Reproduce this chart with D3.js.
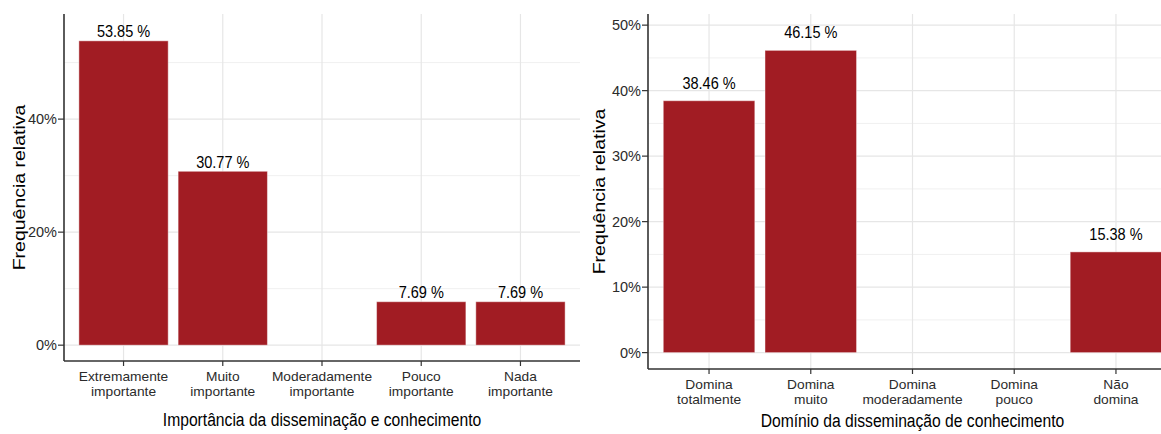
<!DOCTYPE html>
<html>
<head>
<meta charset="utf-8">
<script src="https://cdn.jsdelivr.net/npm/d3@7"></script>
<style>
  html, body { margin: 0; padding: 0; background: #fff; }
  svg { display: block; font-family: Arial, "Liberation Sans", sans-serif; }
</style>
</head>
<body>
<svg id="chart" width="1161" height="434"></svg>
<script>
// Importance of dissemination and knowledge
const importanceCategories = ["Extremamente\nimportante", "Muito\nimportante", "Moderadamente\nimportante", "Pouco\nimportante", "Nada\nimportante"];
const importanceValues = [53.85, 30.77, 0, 7.69, 7.69];
const importanceTicks = [0, 20, 40];
const importanceMinor = [10, 30, 50];

// Mastery of knowledge dissemination
const masteryCategories = ["Domina\ntotalmente", "Domina\nmuito", "Domina\nmoderadamente", "Domina\npouco", "Não\ndomina"];
const masteryValues = [38.46, 46.15, 0, 0, 15.38];
const masteryTicks = [0, 10, 20, 30, 40, 50];
const masteryMinor = [5, 15, 25, 35, 45];

const yTitle = "Frequência relativa";
const importanceTitle = "Importância da disseminação e conhecimento";
const masteryTitle = "Domínio da disseminação de conhecimento";

const BAR = "#a11c23";
const svg = d3.select("#chart");

// Text drawn slightly condensed horizontally
function label(g, x, y, str, opts) {
  return g.append("text")
    .attr("transform", `translate(${x},${y}) scale(${opts.sx || 1},1)`)
    .attr("text-anchor", opts.anchor || "middle")
    .attr("font-size", opts.size)
    .attr("fill", opts.fill || "#000")
    .text(str);
}

function panel(cfg) {
  const g = svg.append("g");
  const x = d3.scaleBand()
    .domain(cfg.categories)
    .range([cfg.left, cfg.right])
    .paddingInner(0.1)
    .paddingOuter(0.15);
  const y = d3.scaleLinear()
    .domain(cfg.yDomain)
    .range([cfg.bottom, cfg.top]);
  const cx = c => x(c) + x.bandwidth() / 2;

  // grid
  const grid = g.append("g");
  grid.selectAll("line.minor").data(cfg.minor.filter(v => y(v) >= cfg.top)).join("line")
    .attr("x1", cfg.left).attr("x2", cfg.right)
    .attr("y1", d => y(d)).attr("y2", d => y(d))
    .attr("stroke", "#f0f0f0").attr("stroke-width", 1);
  grid.selectAll("line.major").data(cfg.ticks).join("line")
    .attr("x1", cfg.left).attr("x2", cfg.right)
    .attr("y1", d => y(d)).attr("y2", d => y(d))
    .attr("stroke", "#e6e6e6").attr("stroke-width", 1.2);
  grid.selectAll("line.vert").data(cfg.categories).join("line")
    .attr("x1", d => cx(d)).attr("x2", d => cx(d))
    .attr("y1", cfg.top).attr("y2", cfg.bottom)
    .attr("stroke", "#e6e6e6").attr("stroke-width", 1.2);

  // bars
  const rows = cfg.categories.map((c, i) => ({ c, v: cfg.values[i] })).filter(d => d.v > 0);
  g.selectAll("rect.bar").data(rows).join("rect")
    .attr("x", d => x(d.c))
    .attr("width", x.bandwidth())
    .attr("y", d => y(d.v))
    .attr("height", d => y(0) - y(d.v))
    .attr("fill", BAR)
    .attr("stroke", "rgba(255,255,255,0.45)")
    .attr("stroke-width", 1);

  // value labels
  rows.forEach(d => {
    label(g, cx(d.c), y(d.v) - cfg.labelGap, d.v.toFixed(2) + " %", { size: 16.5, sx: 0.88 });
  });

  // axes lines
  g.append("line").attr("x1", cfg.left).attr("x2", cfg.left)
    .attr("y1", cfg.top).attr("y2", cfg.bottom)
    .attr("stroke", "#333").attr("stroke-width", 1.6);
  g.append("line").attr("x1", cfg.left).attr("x2", cfg.right)
    .attr("y1", cfg.bottom).attr("y2", cfg.bottom)
    .attr("stroke", "#333").attr("stroke-width", 1.6);

  // y ticks
  cfg.ticks.forEach(t => {
    g.append("line").attr("x1", cfg.left - 6).attr("x2", cfg.left)
      .attr("y1", y(t)).attr("y2", y(t)).attr("stroke", "#333").attr("stroke-width", 1.2);
    label(g, cfg.left - 7, y(t) + 5, t + "%", { size: 14.5, sx: 1.0, anchor: "end", fill: "#2b2b2b" });
  });

  // x ticks
  cfg.categories.forEach(c => {
    g.append("line").attr("x1", cx(c)).attr("x2", cx(c))
      .attr("y1", cfg.bottom).attr("y2", cfg.bottom + 5).attr("stroke", "#333").attr("stroke-width", 1.2);
    c.split("\n").forEach((ln, i) => {
      label(g, cx(c), cfg.bottom + 20 + i * 15, ln, { size: 13, sx: 1.06, fill: "#2b2b2b" });
    });
  });

  // titles
  label(g, (cfg.left + cfg.right) / 2, cfg.bottom + cfg.xTitleGap, cfg.xTitle, { size: 18, sx: 0.87 });
  g.append("text")
    .attr("transform", `translate(${cfg.yTitleX},${(cfg.top + cfg.bottom) / 2}) rotate(-90) scale(1,0.8)`)
    .attr("text-anchor", "middle")
    .attr("font-size", 19.5)
    .attr("fill", "#000")
    .text(yTitle);
}

panel({
  categories: importanceCategories, values: importanceValues,
  ticks: importanceTicks, minor: importanceMinor,
  left: 64, right: 580, top: 14, bottom: 361,
  yDomain: [-2.8, 58.6], labelGap: 3.5,
  xTitle: importanceTitle, xTitleGap: 65, yTitleX: 25
});

panel({
  categories: masteryCategories, values: masteryValues,
  ticks: masteryTicks, minor: masteryMinor,
  left: 648, right: 1177, top: 14, bottom: 369,
  yDomain: [-2.5, 51.7], labelGap: 12,
  xTitle: masteryTitle, xTitleGap: 58, yTitleX: 605
});
</script>
</body>
</html>
